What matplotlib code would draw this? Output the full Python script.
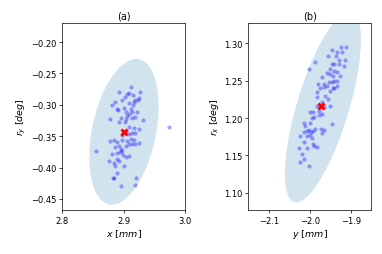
import numpy as np
import matplotlib
matplotlib.use("Agg")
import matplotlib.pyplot as plt
from matplotlib.patches import Ellipse
import matplotlib.transforms as transforms

# panel (a): x [mm] vs r_y [deg]
xa = [2.912, 2.892, 2.906, 2.908, 2.915, 2.902, 2.927, 2.897, 2.886, 2.908,
      2.916, 2.919, 2.915, 2.923, 2.925, 2.881, 2.889, 2.891, 2.900, 2.911,
      2.914, 2.903, 2.908, 2.922, 2.906, 2.895, 2.903, 2.914, 2.919, 2.931,
      2.878, 2.892, 2.902, 2.908, 2.916, 2.925, 2.900, 2.904, 2.908, 2.897,
      2.914, 2.918, 2.878, 2.884, 2.889, 2.897, 2.906, 2.911, 2.916, 2.892,
      2.903, 2.908, 2.914, 2.919, 2.925, 2.895, 2.886, 2.973,
      2.855, 2.881, 2.889, 2.894, 2.897, 2.898, 2.903, 2.909, 2.876, 2.884,
      2.889, 2.892, 2.900, 2.886, 2.889, 2.884, 2.883, 2.920, 2.919, 2.895]
rya = [-0.271, -0.279, -0.283, -0.281, -0.284, -0.288, -0.279, -0.293, -0.295, -0.297,
       -0.295, -0.292, -0.300, -0.292, -0.289, -0.301, -0.307, -0.308, -0.305, -0.307,
       -0.312, -0.312, -0.315, -0.312, -0.318, -0.321, -0.322, -0.321, -0.320, -0.325,
       -0.322, -0.328, -0.328, -0.336, -0.337, -0.339, -0.344, -0.342, -0.347, -0.348,
       -0.345, -0.345, -0.357, -0.356, -0.360, -0.356, -0.357, -0.354, -0.356, -0.365,
       -0.365, -0.362, -0.362, -0.362, -0.361, -0.370, -0.368, -0.335,
       -0.373, -0.378, -0.377, -0.375, -0.373, -0.380, -0.384, -0.381, -0.390, -0.392,
       -0.386, -0.389, -0.397, -0.397, -0.409, -0.416, -0.417, -0.417, -0.428, -0.430]
mean_a = (2.900, -0.343)
ell_center_a = (2.9003, -0.343)
ell_a = (0.0564, 0.116, 0.35)  # half extent x, half extent y, correlation

# panel (b): y [mm] vs r_x [deg]
yb = [-1.924, -1.911, -1.946, -1.933, -1.921, -1.956, -1.935, -1.929, -1.913, -1.988,
      -1.946, -1.940, -1.929, -1.917, -2.003, -1.951, -1.942, -1.933, -1.958, -1.950,
      -1.943, -1.927, -1.970, -1.980, -1.966, -1.954, -1.946, -1.940, -1.933, -1.966,
      -1.958, -1.974, -1.943, -1.933, -1.982, -1.950, -1.942, -1.962, -1.982, -1.956,
      -1.970, -1.982, -1.951, -1.966, -1.991, -1.999, -1.978, -1.970, -1.995, -1.989,
      -1.999, -1.946, -2.015, -2.011, -2.007, -2.003, -1.997, -1.992, -1.987, -1.973,
      -1.966, -1.970, -2.015, -2.023, -2.007, -1.999, -1.995, -2.015, -1.992, -1.989,
      -1.982, -2.007, -2.027, -2.019, -2.015, -2.023, -2.001, -1.978]
rxb = [1.2955, 1.2955, 1.291, 1.288, 1.288, 1.2835, 1.2835, 1.278, 1.278, 1.2746,
       1.273, 1.273, 1.273, 1.270, 1.2652, 1.2656, 1.2634, 1.2612, 1.2598, 1.2589,
       1.2558, 1.2567, 1.2545, 1.2455, 1.2455, 1.2478, 1.2487, 1.25, 1.25, 1.242,
       1.2433, 1.2397, 1.2397, 1.2433, 1.2344, 1.2366, 1.2397, 1.2299, 1.2277, 1.2254,
       1.221, 1.2165, 1.2165, 1.2152, 1.2085, 1.2076, 1.204, 1.2054, 1.200, 1.2009,
       1.1933, 1.192, 1.1933, 1.1888, 1.183, 1.1844, 1.1817, 1.183, 1.1853, 1.1853,
       1.1839, 1.1795, 1.1808, 1.1754, 1.1763, 1.1772, 1.1728, 1.1674, 1.1652, 1.163,
       1.1607, 1.1594, 1.1603, 1.1518, 1.1451, 1.1406, 1.1362, 1.2098]
mean_b = (-1.972, 1.216)
ell_center_b = (-1.968, 1.215)
ell_b = (0.0927, 0.128, 0.70)

fs = 6
lw = 0.5


def draw_ellipse(ax, center, params):
    hx, hy, rho = params
    e = Ellipse((0, 0), width=2 * np.sqrt(1 + rho), height=2 * np.sqrt(1 - rho),
                facecolor='C0', alpha=0.2, edgecolor='none')
    t = transforms.Affine2D().rotate_deg(45).scale(hx, hy).translate(*center)
    e.set_transform(t + ax.transData)
    ax.add_patch(e)


def style_axes(ax):
    for s in ax.spines.values():
        s.set_linewidth(lw)
    ax.tick_params(labelsize=fs, length=2.1, width=lw, pad=2)


fig = plt.figure(figsize=(3.82, 2.55), dpi=100)
ax1 = fig.add_axes([0.163, 0.173, 0.322, 0.732])
ax2 = fig.add_axes([0.650, 0.173, 0.322, 0.732])

draw_ellipse(ax1, ell_center_a, ell_a)
ax1.scatter(xa, rya, s=9, color='blue', alpha=0.35, linewidths=0)
ax1.scatter([mean_a[0]], [mean_a[1]], s=34, color='red', marker='X', linewidths=0)
ax1.set_xlim(2.8, 3.0)
ax1.set_ylim(-0.4675, -0.17)
ax1.set_xticks([2.8, 2.9, 3.0])
ax1.set_title('(a)', fontsize=7, pad=3.5)
ax1.set_xlabel('$x$ [$mm$]', fontsize=6.8, labelpad=2)
ax1.set_ylabel('$r_y$ [$deg$]', fontsize=6.8, labelpad=2)
style_axes(ax1)

draw_ellipse(ax2, ell_center_b, ell_b)
ax2.scatter(yb, rxb, s=9, color='blue', alpha=0.35, linewidths=0)
ax2.scatter([mean_b[0]], [mean_b[1]], s=34, color='red', marker='X', linewidths=0)
ax2.set_xlim(-2.15, -1.85)
ax2.set_ylim(1.077, 1.327)
ax2.set_xticks([-2.1, -2.0, -1.9])
ax2.set_title('(b)', fontsize=7, pad=3.5)
ax2.set_xlabel('$y$ [$mm$]', fontsize=6.8, labelpad=2)
ax2.set_ylabel('$r_x$ [$deg$]', fontsize=6.8, labelpad=2)
style_axes(ax2)

fig.savefig('out.png', dpi=100)
